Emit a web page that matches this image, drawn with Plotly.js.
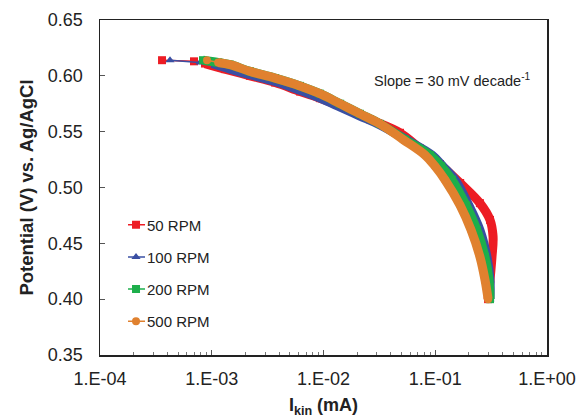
<!DOCTYPE html>
<html>
<head>
<meta charset="utf-8">
<script src="https://cdn.plot.ly/plotly-3.0.1.min.js"></script>
<style>html,body{margin:0;padding:0;background:#fff}#chart{width:578px;height:418px}</style>
</head>
<body>
<div id="chart"></div>
<script>
// Series: kinetic current Ikin (mA) vs potential (V vs Ag/AgCl)
const seriesNames = ["50 RPM", "100 RPM", "200 RPM", "500 RPM"];

const i50  = [3.59e-4, 6.94e-4, 8.70e-4, 1.31e-3, 2.20e-3, 3.68e-3, 6.16e-3, 0.0093, 0.0141, 0.0261, 0.0484, 0.0730, 0.110, 0.167, 0.251, 0.309, 0.329, 0.322, 0.309, 0.297];
const v50  = [0.614, 0.613, 0.611, 0.606, 0.600, 0.594, 0.586, 0.580, 0.573, 0.561, 0.549, 0.535, 0.521, 0.504, 0.486, 0.471, 0.456, 0.438, 0.417, 0.400];

const i100 = [4.23e-4, 7.85e-4, 1.005e-3, 1.46e-3, 2.20e-3, 3.68e-3, 6.16e-3, 0.0093, 0.0141, 0.0212, 0.0320, 0.0547, 0.0935, 0.117, 0.150, 0.200, 0.251, 0.290, 0.309, 0.309];
const v100 = [0.614, 0.612, 0.611, 0.606, 0.601, 0.595, 0.587, 0.580, 0.572, 0.564, 0.556, 0.543, 0.529, 0.519, 0.507, 0.484, 0.462, 0.438, 0.417, 0.400];

const i200 = [8.35e-4, 1.14e-3, 1.46e-3, 2.20e-3, 3.68e-3, 6.16e-3, 0.0093, 0.0141, 0.0212, 0.0320, 0.0536, 0.0898, 0.113, 0.141, 0.189, 0.236, 0.279, 0.303, 0.309];
const v200 = [0.614, 0.612, 0.610, 0.604, 0.598, 0.591, 0.584, 0.575, 0.566, 0.557, 0.543, 0.529, 0.519, 0.507, 0.484, 0.462, 0.438, 0.417, 0.400];

const i500 = [9.07e-4, 1.14e-3, 1.46e-3, 2.20e-3, 3.68e-3, 6.16e-3, 0.0093, 0.0141, 0.0212, 0.0320, 0.0514, 0.0810, 0.0995, 0.122, 0.167, 0.209, 0.251, 0.279, 0.297];
const v500 = [0.614, 0.612, 0.610, 0.604, 0.598, 0.591, 0.584, 0.575, 0.566, 0.557, 0.543, 0.529, 0.519, 0.507, 0.484, 0.462, 0.438, 0.417, 0.400];

const xTickVals = [1e-4, 1e-3, 1e-2, 1e-1, 1];
const xTickText = ["1.E-04", "1.E-03", "1.E-02", "1.E-01", "1.E+00"];

const colors  = ["#ED1C24", "#3A4FA3", "#1DAF4B", "#E0812F"];
const symbols = ["square", "triangle-up", "square", "circle"];
const bandStart = [2, 2, 0, 1];

const xs = [i50, i100, i200, i500];
const ys = [v50, v100, v200, v500];

const FONT = "Liberation Sans, Arial, Helvetica, sans-serif";

const traces = [];
for (let k = 0; k < 4; k++) {
  traces.push({
    x: xs[k].slice(bandStart[k]), y: ys[k].slice(bandStart[k]),
    type: "scatter", mode: "lines",
    line: {color: colors[k], width: 9, shape: "spline", smoothing: 1},
    showlegend: false, hoverinfo: "skip"
  });
  traces.push({
    x: xs[k], y: ys[k], name: seriesNames[k], legendgroup: "g" + k,
    type: "scatter", mode: "lines+markers",
    line: {color: colors[k], width: 1.5},
    marker: {color: colors[k], symbol: symbols[k], size: 8}
  });
}

// minor tick positions for the log axis (2..9 in each decade)
const minorVals = [];
for (let e = -4; e < 0; e++) for (let d = 2; d <= 9; d++) minorVals.push(d * Math.pow(10, e));

const layout = {
  width: 578, height: 418,
  margin: {l: 100, r: 31, t: 20, b: 63},
  paper_bgcolor: "#fff", plot_bgcolor: "#fff",
  font: {family: FONT, color: "#222"},
  showlegend: true,
  legend: {
    x: 0.0157, y: 0.437, xanchor: "left", yanchor: "top",
    bgcolor: "rgba(0,0,0,0)", borderwidth: 0,
    font: {family: FONT, size: 15, color: "#222"},
    traceorder: "grouped", tracegroupgap: 9.6
  },
  xaxis: {
    type: "log", range: [-4, 0],
    tickmode: "array", tickvals: xTickVals, ticktext: xTickText,
    ticks: "inside", ticklen: 5, tickwidth: 1, tickcolor: "#555",
    minor: {tickmode: "array", tickvals: minorVals, ticks: "inside", ticklen: 3, tickwidth: 1, tickcolor: "#777", showgrid: false},
    showline: true, linecolor: "#222", linewidth: 1.5, mirror: true,
    showgrid: false, zeroline: false,
    tickfont: {family: FONT, size: 18, color: "#222"},
    ticklabelstandoff: 7,
    title: {text: "<b>I<sub>kin</sub> (mA)</b>", font: {family: FONT, size: 18, color: "#222"}, standoff: 11}
  },
  yaxis: {
    range: [0.35, 0.65], dtick: 0.05, tick0: 0.35, tickformat: ".2f",
    ticks: "inside", ticklen: 5, tickwidth: 1, tickcolor: "#555",
    showline: true, linecolor: "#222", linewidth: 1.5, mirror: true,
    showgrid: false, zeroline: false,
    tickfont: {family: FONT, size: 18, color: "#222"},
    ticklabelstandoff: 12,
    title: {text: "<b>Potential (V) vs. Ag/AgCl</b>", font: {family: FONT, size: 18.5, color: "#222"}, standoff: 9}
  },
  annotations: [{
    xref: "paper", yref: "paper", x: 0.6085, y: 0.821, xanchor: "left", yanchor: "middle",
    text: "Slope = 30 mV decade<sup>-1</sup>", showarrow: false,
    font: {family: FONT, size: 14.5, color: "#222"}
  }]
};

Plotly.newPlot("chart", traces, layout, {staticPlot: true, displayModeBar: false}).then(function (gd) {
  // shorter legend line samples, marker centred on the sample
  gd.querySelectorAll(".legend .legendlines path").forEach(function (p) { p.setAttribute("d", "M21,0h17"); });
  gd.querySelectorAll(".legend .legendpoints .scatterpts").forEach(function (g) { g.setAttribute("transform", "translate(29,0)"); });
});
</script>
</body>
</html>
